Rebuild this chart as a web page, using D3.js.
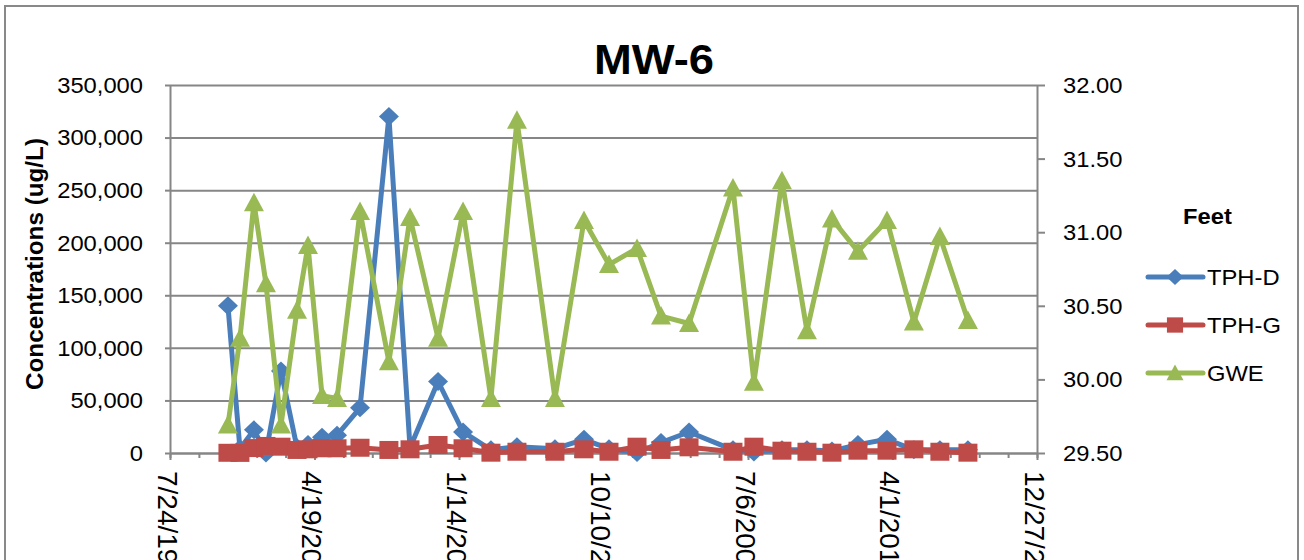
<!DOCTYPE html>
<html>
<head>
<meta charset="utf-8">
<script src="https://cdn.jsdelivr.net/npm/d3@7"></script>
<style>
  html, body { margin: 0; padding: 0; background: #fff; overflow: hidden; }
  svg { display: block; }
  text { font-family: "Liberation Sans", Arial, sans-serif; fill: #000; }
</style>
</head>
<body>
<svg id="chart" width="1304" height="560"></svg>
<script>
// sampling dates shared by all three series
const sampleDates = [
  '1998-08-29', '1998-11-20', '1999-02-25', '1999-05-19', '1999-08-31', '1999-12-20',
  '2000-03-05', '2000-06-10', '2000-09-22', '2001-02-28', '2001-09-16', '2002-02-09',
  '2002-08-22', '2003-02-11', '2003-08-23', '2004-02-19', '2004-11-08', '2005-05-28',
  '2005-11-17', '2006-05-30', '2006-11-12', '2007-05-25', '2008-03-24', '2008-08-16',
  '2009-02-26', '2009-08-18', '2010-02-07', '2010-08-06', '2011-02-23', '2011-08-28',
  '2012-02-24', '2012-09-05',
];

// concentrations (ug/L), left axis
const tphD = [
  140000, 4000, 22000, 100, 78000, 5000,
  8000, 15000, 17000, 43000, 320000, 5000,
  68000, 20000, 3000, 6000, 4000, 13000,
  4000, 500, 10000, 20000, 3000, 1000,
  3000, 3000, 2000, 8000, 13000, 3000,
  3000, 3000,
];
const tphG = [
  200, 100, 4700, 6700, 6000, 2900,
  3500, 4500, 4500, 5000, 2900, 3500,
  7600, 4500, 300, 1200, 1200, 3500,
  1200, 6000, 2900, 5400, 1200, 6000,
  2200, 1200, 300, 2200, 2200, 3500,
  1200, 300,
];

// groundwater elevation (feet), right axis
const gwe = [
  29.69, 30.28, 31.2, 30.65, 29.69, 30.47,
  30.91, 29.89, 29.87, 31.14, 30.12, 31.1,
  30.28, 31.14, 29.87, 31.76, 29.87, 31.08,
  30.78, 30.89, 30.43, 30.38, 31.3, 29.98,
  31.35, 30.33, 31.09, 30.87, 31.08, 30.39,
  30.97, 30.4,
];

const seriesNames = ['TPH-D', 'TPH-G', 'GWE'];
const xTickDates = ['1997-07-24', '2000-04-19', '2003-01-14', '2005-10-10', '2008-07-06', '2011-04-01', '2013-12-27'];
const yLeftTicks = [0, 50000, 100000, 150000, 200000, 250000, 300000, 350000];
const yRightTicks = [29.5, 30, 30.5, 31, 31.5, 32];

const colors = { 'TPH-D': '#4A7EBB', 'TPH-G': '#BE4B48', GWE: '#98B954' };
const gridColor = '#868686';
const sx = 1.08; // horizontal stretch of the reference's lettering

const plot = { left: 170, right: 1037, top: 85, bottom: 453 };
const parse = d3.utcParse('%Y-%m-%d');
const fmtDate = d3.utcFormat('%-m/%-d/%Y');

const svg = d3.select('#chart');

// chart area border
svg
  .append('rect')
  .attr('x', 5)
  .attr('y', 6)
  .attr('width', 1293)
  .attr('height', 600)
  .attr('fill', '#fff')
  .attr('stroke', '#898989')
  .attr('stroke-width', 2);

const x = d3
  .scaleUtc()
  .domain([parse(xTickDates[0]), parse(xTickDates[xTickDates.length - 1])])
  .range([plot.left, plot.right]);
const yL = d3.scaleLinear().domain([0, 350000]).range([plot.bottom, plot.top]);
const yR = d3.scaleLinear().domain([29.5, 32]).range([plot.bottom, plot.top]);

// horizontal grid
svg
  .append('g')
  .attr('transform', `translate(${plot.left},0)`)
  .call(d3.axisLeft(yL).tickValues(yLeftTicks).tickSize(-(plot.right - plot.left)).tickFormat(''))
  .call((g) => g.select('.domain').remove())
  .call((g) => g.selectAll('line').attr('stroke', gridColor).attr('stroke-width', 2));

// left axis
svg
  .append('g')
  .attr('transform', `translate(${plot.left},0)`)
  .call(d3.axisLeft(yL).tickValues(yLeftTicks).tickSize(5).tickSizeOuter(0).tickFormat(''))
  .call((g) => g.selectAll('line, path').attr('stroke', gridColor).attr('stroke-width', 2));

yLeftTicks.forEach((v) => {
  svg
    .append('text')
    .attr('transform', `translate(143,${yL(v)}) scale(${sx},1)`)
    .attr('text-anchor', 'end')
    .attr('dy', '0.36em')
    .style('font-size', '22px')
    .text(d3.format(',')(v));
});

// right axis
svg
  .append('g')
  .attr('transform', `translate(${plot.right},0)`)
  .call(d3.axisRight(yR).tickValues(yRightTicks).tickSize(8).tickSizeOuter(0).tickFormat(''))
  .call((g) => g.selectAll('line, path').attr('stroke', gridColor).attr('stroke-width', 2));

yRightTicks.forEach((v) => {
  svg
    .append('text')
    .attr('transform', `translate(1063,${yR(v)}) scale(${sx},1)`)
    .attr('dy', '0.36em')
    .style('font-size', '22px')
    .text(d3.format('.2f')(v));
});

// x axis, minor ticks every 200 days, major every 1000 days
const start = parse(xTickDates[0]);
const minorTicks = d3.range(0, 31).map((i) => d3.utcDay.offset(start, i * 200));
svg
  .append('g')
  .attr('transform', `translate(0,${plot.bottom})`)
  .call(d3.axisBottom(x).tickValues(minorTicks).tickSize(5).tickSizeOuter(0).tickFormat(''))
  .call((g) => g.selectAll('line, path').attr('stroke', gridColor).attr('stroke-width', 2));
svg
  .append('g')
  .attr('transform', `translate(0,${plot.bottom})`)
  .call(d3.axisBottom(x).tickValues(xTickDates.map(parse)).tickSize(7).tickSizeOuter(0).tickFormat(''))
  .call((g) => g.select('.domain').remove())
  .call((g) => g.selectAll('line').attr('stroke', gridColor).attr('stroke-width', 2));

// date labels run off the bottom edge, as in the source chart
xTickDates.forEach((d) => {
  svg
    .append('text')
    .attr('transform', `translate(${x(parse(d)) - 2},471) rotate(90)`)
    .attr('dy', '0.36em')
    .style('font-size', '28px')
    .text(fmtDate(parse(d)));
});

// markers
const markerPath = {
  'TPH-D': 'M0,-9.5L10,0L0,9.5L-10,0Z',
  'TPH-G': 'M-9.5,-9L9.5,-9L9.5,9L-9.5,9Z',
  GWE: 'M0,-10L10,8.5L-10,8.5Z',
};

const series = [
  { name: 'TPH-D', values: tphD, y: yL },
  { name: 'TPH-G', values: tphG, y: yL },
  { name: 'GWE', values: gwe, y: yR },
];

series.forEach((s) => {
  const pts = sampleDates.map((d, i) => ({ date: parse(d), v: s.values[i] }));
  svg
    .append('path')
    .datum(pts)
    .attr('fill', 'none')
    .attr('stroke', colors[s.name])
    .attr('stroke-width', 5)
    .attr('stroke-linejoin', 'round')
    .attr(
      'd',
      d3
        .line()
        .x((d) => x(d.date))
        .y((d) => s.y(d.v))
    );
  svg
    .append('g')
    .selectAll('path')
    .data(pts)
    .enter()
    .append('path')
    .attr('transform', (d) => `translate(${x(d.date)},${s.y(d.v)})`)
    .attr('d', markerPath[s.name])
    .attr('fill', colors[s.name]);
});

// title
svg
  .append('text')
  .attr('transform', `translate(654,74) scale(${sx},1)`)
  .attr('text-anchor', 'middle')
  .style('font-size', '42px')
  .style('font-weight', 'bold')
  .text('MW-6');

// left axis title
svg
  .append('text')
  .attr('transform', `translate(34,264) scale(${sx},1) rotate(-90)`)
  .attr('text-anchor', 'middle')
  .attr('dy', '0.36em')
  .attr('textLength', 252)
  .attr('lengthAdjust', 'spacingAndGlyphs')
  .style('font-size', '22px')
  .style('font-weight', 'bold')
  .text('Concentrations (ug/L)');

// legend
svg
  .append('text')
  .attr('transform', `translate(1183,224) scale(${sx},1)`)
  .style('font-size', '22px')
  .style('font-weight', 'bold')
  .text('Feet');

seriesNames.forEach((name, i) => {
  const ly = 277 + i * 48;
  svg
    .append('line')
    .attr('x1', 1148)
    .attr('x2', 1203)
    .attr('y1', ly)
    .attr('y2', ly)
    .attr('stroke', colors[name])
    .attr('stroke-width', 5)
    .attr('stroke-linecap', 'round');
  svg
    .append('path')
    .attr('transform', `translate(1175,${ly}) scale(0.85)`)
    .attr('d', markerPath[name])
    .attr('fill', colors[name]);
  svg
    .append('text')
    .attr('transform', `translate(1207,${ly}) scale(${sx},1)`)
    .attr('dy', '0.36em')
    .style('font-size', '22px')
    .text(name);
});
</script>
</body>
</html>
